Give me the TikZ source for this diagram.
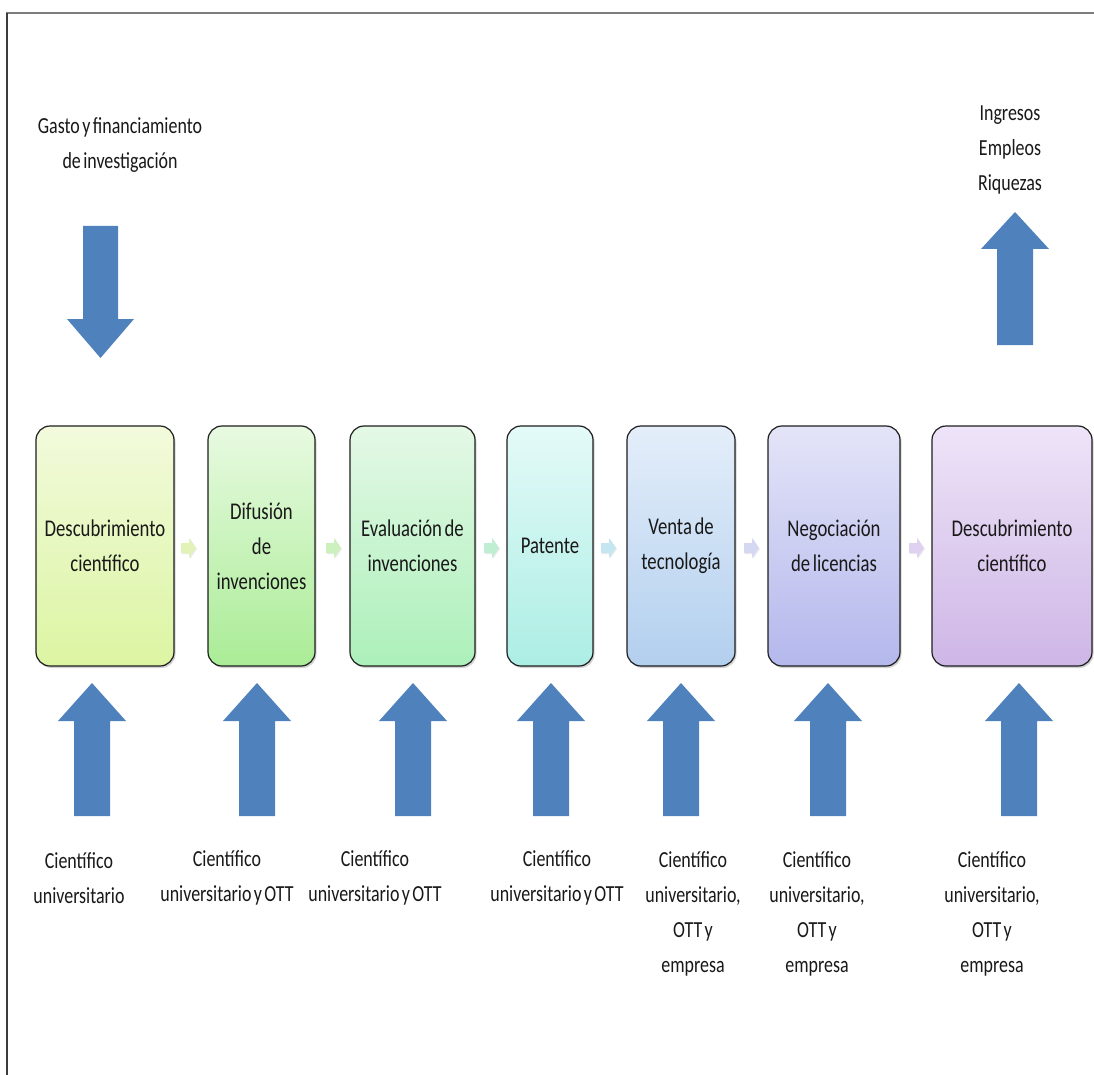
\documentclass[tikz,border=0pt]{standalone}
\usepackage{fontspec}
\setmainfont{Carlito}[FakeStretch=0.78, WordSpace=0.6]
\usetikzlibrary{shadows}

\definecolor{arrblue}{RGB}{79,129,189}
\definecolor{framegray}{RGB}{125,125,125}
\definecolor{frameleft}{RGB}{60,60,60}
\definecolor{boxline}{RGB}{30,30,30}
\definecolor{inktext}{RGB}{25,25,25}

% stage fills (top / bottom)
\definecolor{sAt}{RGB}{242,250,220}\definecolor{sAb}{RGB}{220,245,162}
\definecolor{sBt}{RGB}{232,250,225}\definecolor{sBb}{RGB}{170,236,150}
\definecolor{sCt}{RGB}{228,248,230}\definecolor{sCb}{RGB}{172,240,186}
\definecolor{sDt}{RGB}{228,250,248}\definecolor{sDb}{RGB}{172,238,228}
\definecolor{sEt}{RGB}{228,238,250}\definecolor{sEb}{RGB}{178,207,238}
\definecolor{sFt}{RGB}{228,228,248}\definecolor{sFb}{RGB}{180,184,236}
\definecolor{sGt}{RGB}{238,228,248}\definecolor{sGb}{RGB}{206,182,230}

% small step arrows
\definecolor{pA}{RGB}{226,242,184}
\definecolor{pB}{RGB}{204,240,190}
\definecolor{pC}{RGB}{192,238,210}
\definecolor{pD}{RGB}{196,230,240}
\definecolor{pE}{RGB}{212,216,242}
\definecolor{pF}{RGB}{222,210,240}

\newcommand\blockup[4]{% center x, tip y, head base y, tail y
  \fill[arrblue] (#1-18,#4) -- (#1-18,#3) -- (#1-34,#3) -- (#1,#2)
    -- (#1+34,#3) -- (#1+18,#3) -- (#1+18,#4) -- cycle;}

\newcommand\stepchev[3]{% left x, center y, colour
  \fill[black,opacity=0.08] (#1+1,#2-4) -- (#1+9,#2-4) -- (#1+9,#2-9) -- (#1+16,#2+1)
    -- (#1+9,#2+11) -- (#1+9,#2+6) -- (#1+1,#2+6) -- cycle;
  \fill[#3] (#1,#2-5) -- (#1+8,#2-5) -- (#1+8,#2-10) -- (#1+15,#2)
    -- (#1+8,#2+10) -- (#1+8,#2+5) -- (#1,#2+5) -- cycle;}

\begin{document}
\begin{tikzpicture}[x=1pt,y=-1pt,
  txt/.style={align=center, inner sep=0pt, font=\fontsize{23}{35}\selectfont, text=inktext},
  stage/.style={draw=boxline, line width=1.2pt, rounded corners=14pt,
    minimum height=240pt, inner sep=0pt, align=center,
    font=\fontsize{24}{35}\selectfont, text=inktext,
    drop shadow={shadow xshift=1.5pt, shadow yshift=-2pt, opacity=0.35}},
]
\useasboundingbox (0,0) rectangle (1094,1075);
\fill[white] (0,0) rectangle (1094,1075);

% page frame
\draw[framegray, line width=2pt] (6,13) -- (1100,13);
\draw[frameleft, line width=1.6pt] (7,1080) -- (7,13);

% stages
\node[stage, minimum width=138pt, top color=sAt, bottom color=sAb] (s1) at (105,546) {Descubrimiento\\científico};
\node[stage, minimum width=107pt, top color=sBt, bottom color=sBb] (s2) at (261.5,546) {Difusión\\de\\invenciones};
\node[stage, minimum width=125pt, top color=sCt, bottom color=sCb] (s3) at (412.5,546) {Evaluación de\\invenciones};
\node[stage, minimum width=86pt,  top color=sDt, bottom color=sDb] (s4) at (550,546) {Patente};
\node[stage, minimum width=108pt, top color=sEt, bottom color=sEb] (s5) at (681,546) {Venta de\\tecnología};
\node[stage, minimum width=132pt, top color=sFt, bottom color=sFb] (s6) at (834,546) {Negociación\\de licencias};
\node[stage, minimum width=160pt, top color=sGt, bottom color=sGb] (s7) at (1012,546) {Descubrimiento\\científico};

% step chevrons between stages
\stepchev{181}{548}{pA}
\stepchev{326}{548}{pB}
\stepchev{484}{548}{pC}
\stepchev{601}{548}{pD}
\stepchev{744}{548}{pE}
\stepchev{909}{548}{pF}

% input and output
\node[txt] (inp) at (120,145) {Gasto y financiamiento\\de investigación};
\node[txt] (out) at (1010,150) {Ingresos\\Empleos\\Riquezas};
\fill[arrblue] (83,226) -- (118,226) -- (118,319) -- (134,319) -- (100.5,358)
  -- (67,319) -- (83,319) -- cycle;
\blockup{1015}{212}{249}{345}

% actors feeding each stage
\foreach \cx in {92,257,413,551,681,828,1019}{\blockup{\cx}{683}{721}{816}}

\node[txt] (a1) at (79,878) {Científico\\universitario};
\node[txt] (a2) at (227,878) {Científico\\universitario y OTT};
\node[txt] (a3) at (375,878) {Científico\\universitario y OTT};
\node[txt] (a4) at (557,878) {Científico\\universitario y OTT};
\node[txt] (a5) at (693,914) {Científico\\universitario,\\OTT y\\empresa};
\node[txt] (a6) at (817,914) {Científico\\universitario,\\OTT y\\empresa};
\node[txt] (a7) at (992,914) {Científico\\universitario,\\OTT y\\empresa};
\end{tikzpicture}
\end{document}
